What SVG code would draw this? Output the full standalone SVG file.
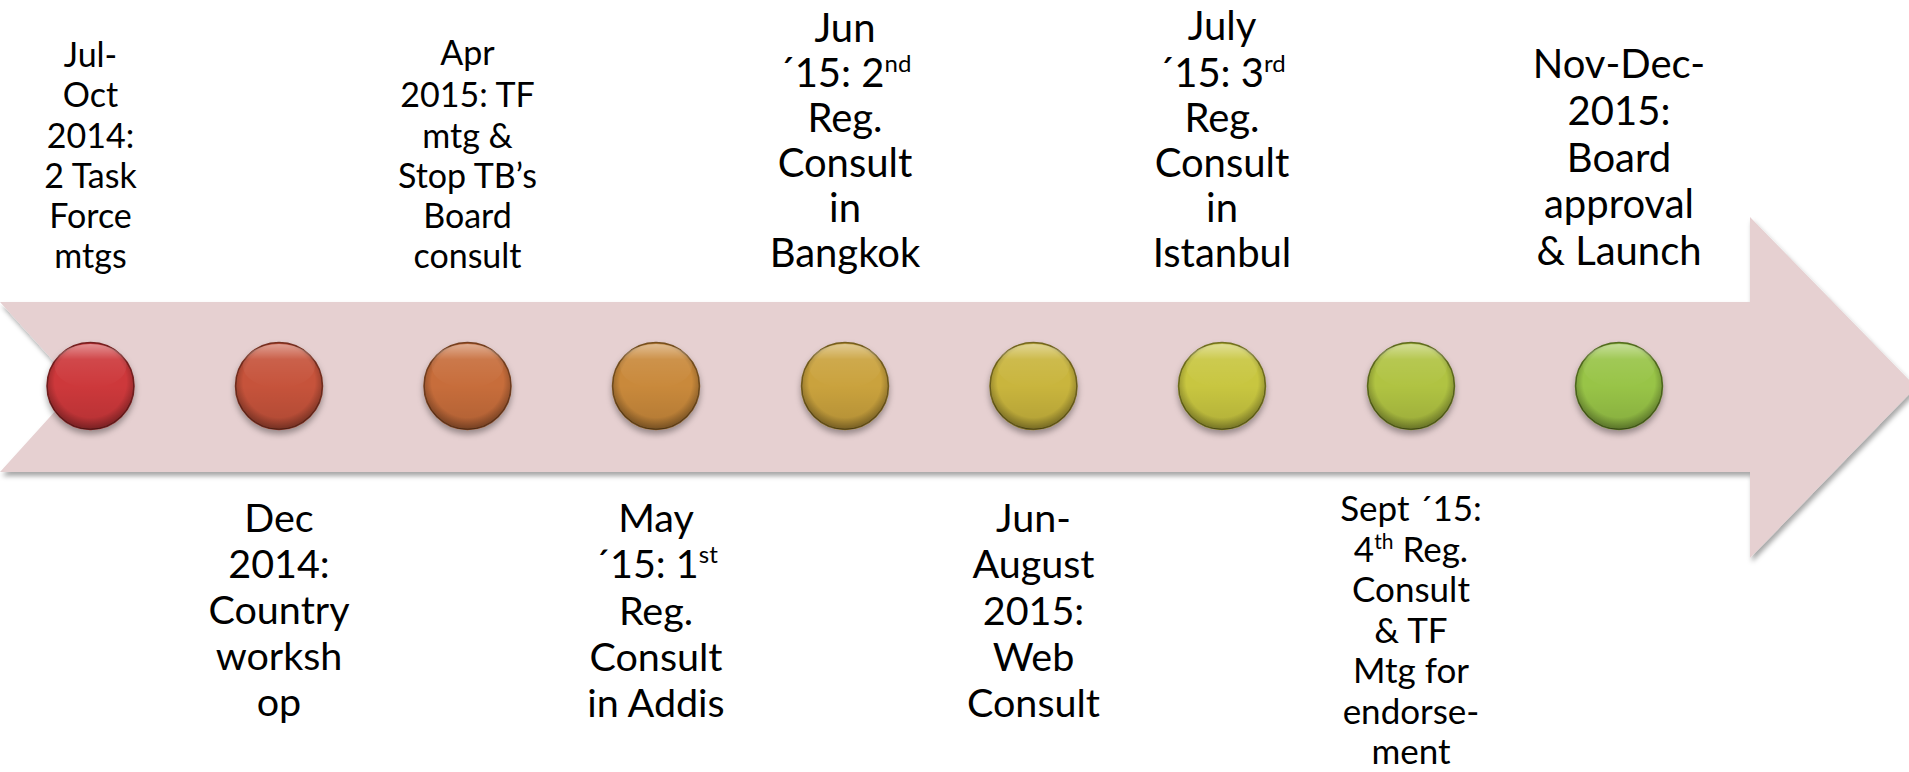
<svg xmlns="http://www.w3.org/2000/svg" width="1909" height="772" viewBox="0 0 1909 772">
<style>
.lbl{font-family:Lato,"Liberation Sans",sans-serif;fill:#000;text-anchor:middle}
.s36{font-size:34px}
.s42{font-size:40px}
.s41{font-size:39.5px}
.s37{font-size:35px}
.bead{stroke-width:1.5}
</style>
<defs>
<filter id="ashadow" x="-5%" y="-20%" width="110%" height="150%">
<feDropShadow dx="2" dy="4" stdDeviation="2.5" flood-color="#000" flood-opacity="0.35"/>
</filter>
<filter id="bshadow" x="-30%" y="-30%" width="160%" height="170%">
<feDropShadow dx="0" dy="4" stdDeviation="3" flood-color="#000" flood-opacity="0.35"/>
</filter>
<radialGradient id="rim" cx="50%" cy="45%" r="55%">
<stop offset="0.75" stop-color="#000" stop-opacity="0"/>
<stop offset="1" stop-color="#000" stop-opacity="0.35"/>
</radialGradient>
<linearGradient id="shine" x1="0" y1="0" x2="0" y2="1">
<stop offset="0" stop-color="#fff" stop-opacity="0.45"/>
<stop offset="0.35" stop-color="#fff" stop-opacity="0.08"/>
<stop offset="1" stop-color="#fff" stop-opacity="0"/>
</linearGradient>
<linearGradient id="lower" x1="0" y1="0" x2="0" y2="1">
<stop offset="0.5" stop-color="#000" stop-opacity="0"/>
<stop offset="1" stop-color="#000" stop-opacity="0.12"/>
</linearGradient>
<g id="gloss">
<circle r="43.5" fill="url(#lower)"/>
<circle r="43.5" fill="url(#rim)"/>
<ellipse cx="0" cy="-20" rx="36" ry="22" fill="url(#shine)"/>
</g>
</defs>
<rect width="1909" height="772" fill="#fff"/>
<g id="connectors">
<path id="timeline-arrow" d="M0,302 L1750,302 L1750,217 L1916,387 L1750,558 L1750,472 L0,472 L77,387 Z" fill="#E6D0D1" filter="url(#ashadow)"/>
</g>
<g id="node1">
<circle class="bead" cx="90.5" cy="386" r="43.5" fill="#CD383B" stroke="#7a2020" filter="url(#bshadow)"/>
<use href="#gloss" x="90.5" y="386"/>
<text class="lbl s36"><tspan x="90.5" y="67">Jul-</tspan><tspan x="90.5" y="107">Oct</tspan><tspan x="90.5" y="147.5">2014:</tspan><tspan x="90.5" y="188">2 Task</tspan><tspan x="90.5" y="228">Force</tspan><tspan x="90.5" y="268">mtgs</tspan></text>
</g>
<g id="node2">
<circle class="bead" cx="279" cy="386" r="43.5" fill="#C6523A" stroke="#7a3020" filter="url(#bshadow)"/>
<use href="#gloss" x="279" y="386"/>
<text class="lbl s41"><tspan x="279" y="532">Dec</tspan><tspan x="279" y="578">2014:</tspan><tspan x="279" y="624">Country</tspan><tspan x="279" y="670">worksh</tspan><tspan x="279" y="716">op</tspan></text>
</g>
<g id="node3">
<circle class="bead" cx="467.5" cy="386" r="43.5" fill="#C76D3A" stroke="#7a4220" filter="url(#bshadow)"/>
<use href="#gloss" x="467.5" y="386"/>
<text class="lbl s36"><tspan x="467.5" y="65">Apr</tspan><tspan x="467.5" y="107">2015: TF</tspan><tspan x="467.5" y="147.5">mtg &amp;</tspan><tspan x="467.5" y="188">Stop TB’s</tspan><tspan x="467.5" y="228">Board</tspan><tspan x="467.5" y="268">consult</tspan></text>
</g>
<g id="node4">
<circle class="bead" cx="656" cy="386" r="43.5" fill="#C9893B" stroke="#7a5220" filter="url(#bshadow)"/>
<use href="#gloss" x="656" y="386"/>
<text class="lbl s41"><tspan x="656" y="532">May</tspan><tspan x="656" y="578">´15: 1<tspan font-size="24" dy="-15">st</tspan></tspan><tspan x="656" y="625">Reg.</tspan><tspan x="656" y="671">Consult</tspan><tspan x="656" y="717">in Addis</tspan></text>
</g>
<g id="node5">
<circle class="bead" cx="845" cy="386" r="43.5" fill="#CAA23D" stroke="#7a6220" filter="url(#bshadow)"/>
<use href="#gloss" x="845" y="386"/>
<text class="lbl s42"><tspan x="845" y="42">Jun</tspan><tspan x="845" y="87">´15: 2<tspan font-size="24" dy="-15">nd</tspan></tspan><tspan x="845" y="132">Reg.</tspan><tspan x="845" y="177">Consult</tspan><tspan x="845" y="222">in</tspan><tspan x="845" y="267">Bangkok</tspan></text>
</g>
<g id="node6">
<circle class="bead" cx="1033.5" cy="386" r="43.5" fill="#C9B53E" stroke="#786a20" filter="url(#bshadow)"/>
<use href="#gloss" x="1033.5" y="386"/>
<text class="lbl s41"><tspan x="1033.5" y="532">Jun-</tspan><tspan x="1033.5" y="578">August</tspan><tspan x="1033.5" y="625">2015:</tspan><tspan x="1033.5" y="671">Web</tspan><tspan x="1033.5" y="717">Consult</tspan></text>
</g>
<g id="node7">
<circle class="bead" cx="1222" cy="386" r="43.5" fill="#C8C640" stroke="#767420" filter="url(#bshadow)"/>
<use href="#gloss" x="1222" y="386"/>
<text class="lbl s42"><tspan x="1222" y="40">July</tspan><tspan x="1222" y="87">´15: 3<tspan font-size="24" dy="-15">rd</tspan></tspan><tspan x="1222" y="132">Reg.</tspan><tspan x="1222" y="177">Consult</tspan><tspan x="1222" y="222">in</tspan><tspan x="1222" y="267">Istanbul</tspan></text>
</g>
<g id="node8">
<circle class="bead" cx="1411" cy="386" r="43.5" fill="#B0C343" stroke="#647020" filter="url(#bshadow)"/>
<use href="#gloss" x="1411" y="386"/>
<text class="lbl s37"><tspan x="1411" y="521">Sept ´15:</tspan><tspan x="1411" y="561.5">4<tspan font-size="21" dy="-13">th</tspan><tspan dy="13"> Reg.</tspan></tspan><tspan x="1411" y="602">Consult</tspan><tspan x="1411" y="642.5">&amp; TF</tspan><tspan x="1411" y="683">Mtg for</tspan><tspan x="1411" y="723.5">endorse-</tspan><tspan x="1411" y="764">ment</tspan></text>
</g>
<g id="node9">
<circle class="bead" cx="1619" cy="386" r="43.5" fill="#98C446" stroke="#567020" filter="url(#bshadow)"/>
<use href="#gloss" x="1619" y="386"/>
<text class="lbl s42"><tspan x="1619" y="78">Nov-Dec-</tspan><tspan x="1619" y="125">2015:</tspan><tspan x="1619" y="171.5">Board</tspan><tspan x="1619" y="218">approval</tspan><tspan x="1619" y="265">&amp; Launch</tspan></text>
</g>
</svg>
